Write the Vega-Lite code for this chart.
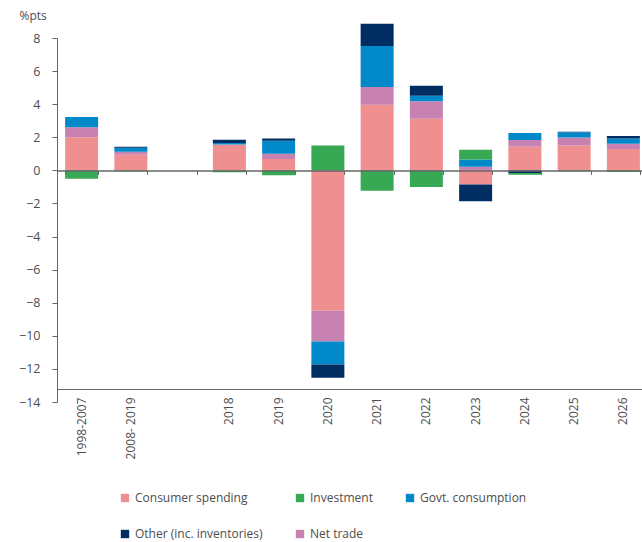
{
  "$schema": "https://vega.github.io/schema/vega-lite/v6.json",
  "width": 591,
  "height": 364,
  "autosize": {"type": "none"},
  "padding": {"left": 57, "top": 38, "right": 0, "bottom": 140},
  "config": {
    "view": {"stroke": null},
    "font": "Open Sans",
    "axis": {"labelColor": "#4d4d4d", "domainColor": "#666666", "tickColor": "#666666", "titleColor": "#4d4d4d", "labelFont": "Open Sans", "titleFont": "Open Sans"},
    "legend": {"labelFont": "Open Sans"}
  },
  "data": {
    "values": [
      {"period": "1998-2007", "component": "Consumer spending", "value": 2.0},
      {"period": "1998-2007", "component": "Net trade", "value": 0.6},
      {"period": "1998-2007", "component": "Govt. consumption", "value": 0.63},
      {"period": "1998-2007", "component": "Other (inc. inventories)", "value": 0.0},
      {"period": "1998-2007", "component": "Investment", "value": -0.5},

      {"period": "2008- 2019", "component": "Consumer spending", "value": 0.95},
      {"period": "2008- 2019", "component": "Net trade", "value": 0.18},
      {"period": "2008- 2019", "component": "Govt. consumption", "value": 0.24},
      {"period": "2008- 2019", "component": "Other (inc. inventories)", "value": 0.06},
      {"period": "2008- 2019", "component": "Investment", "value": -0.06},

      {"period": "2018", "component": "Consumer spending", "value": 1.55},
      {"period": "2018", "component": "Net trade", "value": 0.02},
      {"period": "2018", "component": "Govt. consumption", "value": 0.08},
      {"period": "2018", "component": "Other (inc. inventories)", "value": 0.2},
      {"period": "2018", "component": "Investment", "value": -0.12},

      {"period": "2019", "component": "Consumer spending", "value": 0.69},
      {"period": "2019", "component": "Net trade", "value": 0.32},
      {"period": "2019", "component": "Govt. consumption", "value": 0.78},
      {"period": "2019", "component": "Other (inc. inventories)", "value": 0.14},
      {"period": "2019", "component": "Investment", "value": -0.3},

      {"period": "2020", "component": "Consumer spending", "value": -8.48},
      {"period": "2020", "component": "Net trade", "value": -1.87},
      {"period": "2020", "component": "Govt. consumption", "value": -1.39},
      {"period": "2020", "component": "Other (inc. inventories)", "value": -0.8},
      {"period": "2020", "component": "Investment", "value": 1.5},

      {"period": "2021", "component": "Consumer spending", "value": 3.97},
      {"period": "2021", "component": "Net trade", "value": 1.07},
      {"period": "2021", "component": "Govt. consumption", "value": 2.48},
      {"period": "2021", "component": "Other (inc. inventories)", "value": 1.34},
      {"period": "2021", "component": "Investment", "value": -1.23},

      {"period": "2022", "component": "Consumer spending", "value": 3.12},
      {"period": "2022", "component": "Net trade", "value": 1.05},
      {"period": "2022", "component": "Govt. consumption", "value": 0.34},
      {"period": "2022", "component": "Other (inc. inventories)", "value": 0.61},
      {"period": "2022", "component": "Investment", "value": -1.0},

      {"period": "2023", "component": "Consumer spending", "value": -0.86},
      {"period": "2023", "component": "Net trade", "value": 0.22},
      {"period": "2023", "component": "Govt. consumption", "value": 0.43},
      {"period": "2023", "component": "Other (inc. inventories)", "value": -1.01},
      {"period": "2023", "component": "Investment", "value": 0.6},

      {"period": "2024", "component": "Consumer spending", "value": 1.43},
      {"period": "2024", "component": "Net trade", "value": 0.4},
      {"period": "2024", "component": "Govt. consumption", "value": 0.43},
      {"period": "2024", "component": "Other (inc. inventories)", "value": -0.16},
      {"period": "2024", "component": "Investment", "value": -0.11},

      {"period": "2025", "component": "Consumer spending", "value": 1.51},
      {"period": "2025", "component": "Net trade", "value": 0.48},
      {"period": "2025", "component": "Govt. consumption", "value": 0.31},
      {"period": "2025", "component": "Other (inc. inventories)", "value": 0.03},
      {"period": "2025", "component": "Investment", "value": -0.06},

      {"period": "2026", "component": "Consumer spending", "value": 1.29},
      {"period": "2026", "component": "Net trade", "value": 0.32},
      {"period": "2026", "component": "Govt. consumption", "value": 0.31},
      {"period": "2026", "component": "Other (inc. inventories)", "value": 0.16},
      {"period": "2026", "component": "Investment", "value": -0.1}
    ]
  },
  "transform": [
    {"calculate": "indexof(['Consumer spending','Net trade','Govt. consumption','Other (inc. inventories)','Investment'], datum.component)", "as": "stackOrder"}
  ],
  "layer": [
    {
      "mark": {"type": "bar"},
      "encoding": {
        "x": {
          "field": "period", "type": "nominal", "sort": null,
          "scale": {
            "domain": ["1998-2007", "2008- 2019", " ", "2018", "2019", "2020", "2021", "2022", "2023", "2024", "2025", "2026"],
            "paddingInner": 0.33, "paddingOuter": 0.165
          },
          "axis": {
            "title": null, "orient": "bottom", "offset": -13,
            "ticks": false, "tickSize": 0, "labelPadding": 8,
            "labelAngle": -90, "labelFontSize": 12, "domain": true, "domainWidth": 1
          }
        },
        "y": {
          "field": "value", "type": "quantitative", "stack": "zero",
          "scale": {"domain": [-14, 8], "nice": false, "zero": false},
          "axis": {
            "values": [-14, -12, -10, -8, -6, -4, -2, 0, 2, 4, 6, 8],
            "grid": false, "tickSize": 5, "labelPadding": 12, "labelFontSize": 12.5,
            "title": "%pts", "titleAngle": 0, "titleAlign": "left", "titleBaseline": "middle",
            "titleX": -38, "titleY": -23, "titleFontSize": 12, "titleFontWeight": "normal"
          }
        },
        "color": {
          "field": "component", "type": "nominal",
          "scale": {
            "domain": ["Consumer spending", "Investment", "Govt. consumption", "Other (inc. inventories)", "Net trade"],
            "range": ["#EF8F8F", "#37A853", "#0088C8", "#002D62", "#C882B2"]
          },
          "legend": {
            "orient": "none", "legendX": 62, "legendY": 454,
            "columns": 3, "direction": "horizontal", "title": null,
            "symbolType": "square", "symbolSize": 70, "symbolStrokeWidth": 0,
            "labelFontSize": 12, "labelColor": "#4d4d4d", "labelOffset": 4,
            "columnPadding": 31, "rowPadding": 24
          }
        },
        "order": {"field": "stackOrder", "type": "quantitative"}
      }
    },
    {
      "mark": {"type": "point", "opacity": 0},
      "encoding": {
        "x": {
          "field": "period", "type": "nominal", "sort": null,
          "axis": {
            "title": null, "orient": "bottom", "offset": -231.6,
            "labels": false, "ticks": true, "tickSize": 4, "tickBand": "extent",
            "domain": true, "domainWidth": 1.5, "zindex": 1
          }
        }
      }
    }
  ],
  "resolve": {"axis": {"x": "independent"}}
}
